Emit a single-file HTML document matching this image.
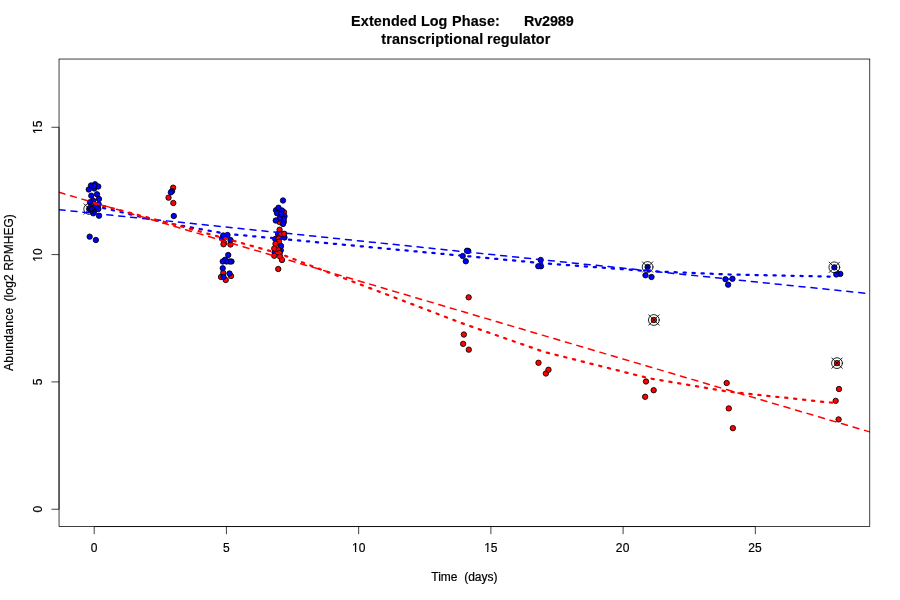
<!DOCTYPE html>
<html lang="en"><head><meta charset="utf-8"><title>Extended Log Phase: Rv2989</title>
<style>
html,body{margin:0;padding:0;background:#fff;}
body{width:900px;height:600px;overflow:hidden;}
svg{display:block;}
text{font-family:"Liberation Sans",Arial,Helvetica,sans-serif;fill:#000;}
.t{font-size:12px;stroke:#000;stroke-width:0.2px;}
.m{font-size:14.4px;font-weight:bold;stroke:#000;stroke-width:0.15px;}
.ax{stroke:#000;stroke-width:0.75;fill:none;}
.p circle{stroke:#000;stroke-width:0.85;}
.r{fill:#ff0000;}.b{fill:#0000ff;}
.mk{stroke:#000;stroke-width:0.85;fill:none;stroke-linecap:round;}
.da{fill:none;stroke-width:1.5;stroke-dasharray:6 6;stroke-linecap:round;stroke-linejoin:round;}
.do{fill:none;stroke-width:2.25;stroke-dasharray:2.25 6.75;stroke-linecap:round;stroke-linejoin:round;}
</style></head><body>
<svg width="900" height="600" viewBox="0 0 900 600">
<rect x="0" y="0" width="900" height="600" fill="#ffffff"/>
<defs><clipPath id="plot"><rect x="59.04" y="59.04" width="810.72" height="467.52"/></clipPath></defs>
<g class="p" clip-path="url(#plot)">
<circle class="b" cx="95.00" cy="184.30" r="2.7"/>
<circle class="b" cx="94.25" cy="188.50" r="2.7"/>
<circle class="b" cx="91.00" cy="185.50" r="2.7"/>
<circle class="b" cx="98.25" cy="186.50" r="2.7"/>
<circle class="b" cx="94.25" cy="186.00" r="2.7"/>
<circle class="b" cx="88.75" cy="189.50" r="2.7"/>
<circle class="b" cx="91.30" cy="195.70" r="2.7"/>
<circle class="b" cx="97.00" cy="194.30" r="2.7"/>
<circle class="b" cx="99.00" cy="199.00" r="2.7"/>
<circle class="b" cx="93.30" cy="200.70" r="2.7"/>
<circle class="b" cx="90.00" cy="202.30" r="2.7"/>
<circle class="b" cx="98.70" cy="204.30" r="2.7"/>
<circle class="b" cx="94.70" cy="206.70" r="2.7"/>
<circle class="b" cx="89.20" cy="209.00" r="2.7"/>
<circle class="b" cx="90.30" cy="207.60" r="2.7"/>
<circle class="b" cx="90.60" cy="210.30" r="2.7"/>
<circle class="b" cx="91.30" cy="209.00" r="2.7"/>
<circle class="b" cx="95.30" cy="210.00" r="2.7"/>
<circle class="b" cx="98.30" cy="209.00" r="2.7"/>
<circle class="b" cx="93.30" cy="213.30" r="2.7"/>
<circle class="b" cx="99.00" cy="215.70" r="2.7"/>
<circle class="b" cx="89.67" cy="236.67" r="2.7"/>
<circle class="b" cx="95.87" cy="240.00" r="2.7"/>
<circle class="r" cx="173.13" cy="187.67" r="2.7"/>
<circle class="b" cx="172.10" cy="191.10" r="2.7"/>
<circle class="b" cx="170.87" cy="192.33" r="2.7"/>
<circle class="r" cx="168.53" cy="197.67" r="2.7"/>
<circle class="r" cx="173.33" cy="203.00" r="2.7"/>
<circle class="b" cx="173.80" cy="216.00" r="2.7"/>
<circle class="r" cx="224.30" cy="243.00" r="2.7"/>
<circle class="r" cx="223.50" cy="244.25" r="2.7"/>
<circle class="r" cx="230.50" cy="244.50" r="2.7"/>
<circle class="b" cx="222.00" cy="238.50" r="2.7"/>
<circle class="b" cx="227.50" cy="235.00" r="2.7"/>
<circle class="b" cx="223.25" cy="235.50" r="2.7"/>
<circle class="b" cx="230.50" cy="240.00" r="2.7"/>
<circle class="b" cx="225.05" cy="259.80" r="2.7"/>
<circle class="b" cx="228.25" cy="255.00" r="2.7"/>
<circle class="b" cx="231.50" cy="261.50" r="2.7"/>
<circle class="b" cx="229.50" cy="261.50" r="2.7"/>
<circle class="b" cx="226.50" cy="261.50" r="2.7"/>
<circle class="b" cx="222.75" cy="261.50" r="2.7"/>
<circle class="r" cx="223.25" cy="273.00" r="2.7"/>
<circle class="r" cx="221.00" cy="277.00" r="2.7"/>
<circle class="r" cx="231.00" cy="276.00" r="2.7"/>
<circle class="r" cx="225.75" cy="280.00" r="2.7"/>
<circle class="b" cx="222.75" cy="268.25" r="2.7"/>
<circle class="b" cx="229.50" cy="273.50" r="2.7"/>
<circle class="b" cx="223.50" cy="277.00" r="2.7"/>
<circle class="r" cx="284.00" cy="212.20" r="2.7"/>
<circle class="b" cx="283.00" cy="200.50" r="2.7"/>
<circle class="b" cx="276.00" cy="210.30" r="2.7"/>
<circle class="b" cx="282.00" cy="210.50" r="2.7"/>
<circle class="b" cx="278.50" cy="207.75" r="2.7"/>
<circle class="b" cx="277.00" cy="213.20" r="2.7"/>
<circle class="b" cx="284.50" cy="216.20" r="2.7"/>
<circle class="b" cx="281.25" cy="214.00" r="2.7"/>
<circle class="r" cx="279.50" cy="222.00" r="2.7"/>
<circle class="r" cx="283.80" cy="222.00" r="2.7"/>
<circle class="b" cx="283.75" cy="219.25" r="2.7"/>
<circle class="b" cx="279.50" cy="218.50" r="2.7"/>
<circle class="b" cx="275.75" cy="220.50" r="2.7"/>
<circle class="b" cx="283.00" cy="224.00" r="2.7"/>
<circle class="b" cx="278.00" cy="234.00" r="2.7"/>
<circle class="b" cx="284.50" cy="237.50" r="2.7"/>
<circle class="b" cx="275.25" cy="239.00" r="2.7"/>
<circle class="r" cx="279.60" cy="229.75" r="2.7"/>
<circle class="r" cx="280.75" cy="234.00" r="2.7"/>
<circle class="r" cx="284.25" cy="233.75" r="2.7"/>
<circle class="r" cx="278.75" cy="238.50" r="2.7"/>
<circle class="r" cx="279.00" cy="241.75" r="2.7"/>
<circle class="r" cx="275.50" cy="243.75" r="2.7"/>
<circle class="b" cx="280.80" cy="250.30" r="2.7"/>
<circle class="b" cx="281.00" cy="246.00" r="2.7"/>
<circle class="b" cx="274.60" cy="252.20" r="2.7"/>
<circle class="r" cx="278.00" cy="249.50" r="2.7"/>
<circle class="r" cx="274.25" cy="248.50" r="2.7"/>
<circle class="r" cx="279.75" cy="253.00" r="2.7"/>
<circle class="r" cx="274.25" cy="255.75" r="2.7"/>
<circle class="r" cx="280.00" cy="256.50" r="2.7"/>
<circle class="r" cx="282.00" cy="260.00" r="2.7"/>
<circle class="r" cx="278.25" cy="269.00" r="2.7"/>
<circle class="b" cx="468.30" cy="251.00" r="2.7"/>
<circle class="b" cx="467.00" cy="250.70" r="2.7"/>
<circle class="b" cx="462.70" cy="256.00" r="2.7"/>
<circle class="b" cx="465.80" cy="261.30" r="2.7"/>
<circle class="r" cx="468.67" cy="297.33" r="2.7"/>
<circle class="r" cx="463.87" cy="334.53" r="2.7"/>
<circle class="r" cx="463.13" cy="343.87" r="2.7"/>
<circle class="r" cx="468.80" cy="349.67" r="2.7"/>
<circle class="b" cx="540.67" cy="260.00" r="2.7"/>
<circle class="b" cx="541.00" cy="266.30" r="2.7"/>
<circle class="b" cx="538.30" cy="266.20" r="2.7"/>
<circle class="r" cx="538.50" cy="362.80" r="2.7"/>
<circle class="r" cx="545.90" cy="373.50" r="2.7"/>
<circle class="r" cx="548.50" cy="369.80" r="2.7"/>
<circle class="b" cx="647.60" cy="267.00" r="2.7"/>
<circle class="b" cx="645.50" cy="275.25" r="2.7"/>
<circle class="b" cx="651.50" cy="277.00" r="2.7"/>
<circle class="r" cx="653.87" cy="320.00" r="2.7"/>
<circle class="r" cx="646.00" cy="381.47" r="2.7"/>
<circle class="r" cx="653.67" cy="390.20" r="2.7"/>
<circle class="r" cx="645.13" cy="396.80" r="2.7"/>
<circle class="b" cx="725.47" cy="279.20" r="2.7"/>
<circle class="b" cx="732.47" cy="278.80" r="2.7"/>
<circle class="b" cx="728.13" cy="284.67" r="2.7"/>
<circle class="r" cx="726.67" cy="383.00" r="2.7"/>
<circle class="r" cx="728.80" cy="408.40" r="2.7"/>
<circle class="r" cx="732.87" cy="428.13" r="2.7"/>
<circle class="b" cx="834.33" cy="267.33" r="2.7"/>
<circle class="b" cx="840.30" cy="273.90" r="2.7"/>
<circle class="b" cx="836.30" cy="274.50" r="2.7"/>
<circle class="r" cx="837.00" cy="363.13" r="2.7"/>
<circle class="r" cx="839.00" cy="389.00" r="2.7"/>
<circle class="r" cx="835.67" cy="400.87" r="2.7"/>
<circle class="r" cx="838.60" cy="419.40" r="2.7"/>
</g>
<g class="mk" clip-path="url(#plot)">
<circle cx="89.20" cy="209.00" r="5.4"/>
<line x1="84.00" y1="203.80" x2="94.40" y2="214.20"/>
<line x1="84.00" y1="214.20" x2="94.40" y2="203.80"/>
<circle cx="647.60" cy="267.00" r="5.4"/>
<line x1="642.40" y1="261.80" x2="652.80" y2="272.20"/>
<line x1="642.40" y1="272.20" x2="652.80" y2="261.80"/>
<circle cx="653.87" cy="320.00" r="5.4"/>
<line x1="648.67" y1="314.80" x2="659.07" y2="325.20"/>
<line x1="648.67" y1="325.20" x2="659.07" y2="314.80"/>
<circle cx="834.33" cy="267.33" r="5.4"/>
<line x1="829.13" y1="262.13" x2="839.53" y2="272.53"/>
<line x1="829.13" y1="272.53" x2="839.53" y2="262.13"/>
<circle cx="837.00" cy="363.13" r="5.4"/>
<line x1="831.80" y1="357.93" x2="842.20" y2="368.33"/>
<line x1="831.80" y1="368.33" x2="842.20" y2="357.93"/>
</g>
<g clip-path="url(#plot)">
<polyline class="do" stroke="#0000ff" points="94.20,205.90 173.50,224.30 226.40,233.80 279.30,238.70 464.40,255.90 543.70,263.30 649.50,271.20 728.80,274.50 834.60,276.70"/>
<line class="da" stroke="#0000ff" x1="59.04" y1="209.75" x2="869.76" y2="293.70"/>
<polyline class="do" stroke="#ff0000" points="94.20,203.50 173.50,224.30 226.40,238.80 279.30,253.60 464.40,324.10 543.70,351.80 649.50,378.40 728.80,391.70 834.60,403.00"/>
<line class="da" stroke="#ff0000" x1="59.04" y1="192.30" x2="869.76" y2="431.90"/>
</g>
<rect class="ax" x="59.04" y="59.04" width="810.72" height="467.52"/>
<path class="ax" d="M94.20 526.56H755.33"/>
<path class="ax" d="M94.20 526.56v7.58"/>
<path class="ax" d="M226.43 526.56v7.58"/>
<path class="ax" d="M358.65 526.56v7.58"/>
<path class="ax" d="M490.88 526.56v7.58"/>
<path class="ax" d="M623.10 526.56v7.58"/>
<path class="ax" d="M755.33 526.56v7.58"/>
<path class="ax" d="M59.04 509.24V127.28"/>
<path class="ax" d="M59.04 509.24h-7.58"/>
<path class="ax" d="M59.04 381.92h-7.58"/>
<path class="ax" d="M59.04 254.60h-7.58"/>
<path class="ax" d="M59.04 127.28h-7.58"/>
<text class="t" x="94.20" y="551.80" text-anchor="middle">0</text>
<text class="t" x="226.43" y="551.80" text-anchor="middle">5</text>
<text class="t" x="358.65" y="551.80" text-anchor="middle">10</text>
<text class="t" x="490.88" y="551.80" text-anchor="middle">15</text>
<text class="t" x="622.85" y="551.80" text-anchor="middle" style="letter-spacing:0.3px">20</text>
<text class="t" x="755.12" y="551.80" text-anchor="middle" style="letter-spacing:0.3px">25</text>
<text class="t" transform="translate(41.80 509.24) rotate(-90)" text-anchor="middle">0</text>
<text class="t" transform="translate(41.80 381.92) rotate(-90)" text-anchor="middle">5</text>
<text class="t" transform="translate(41.80 255.00) rotate(-90)" text-anchor="middle">10</text>
<text class="t" transform="translate(41.80 127.28) rotate(-90)" text-anchor="middle">15</text>
<rect x="351.40" y="550.30" width="3.50" height="2.30" fill="#fff"/>
<rect x="356.25" y="550.30" width="2.75" height="2.30" fill="#fff"/>
<rect x="483.80" y="550.30" width="3.20" height="2.30" fill="#fff"/>
<rect x="488.40" y="550.30" width="2.50" height="2.30" fill="#fff"/>
<rect x="39.90" y="254.90" width="3.00" height="2.50" fill="#fff"/>
<rect x="39.90" y="258.80" width="3.00" height="3.20" fill="#fff"/>
<rect x="39.90" y="127.20" width="3.00" height="2.50" fill="#fff"/>
<rect x="39.90" y="131.00" width="3.00" height="3.00" fill="#fff"/>
<text class="t" x="464.40" y="580.60" text-anchor="middle" xml:space="preserve">Time  (days)</text>
<text class="t" transform="translate(13.00 371.00) rotate(-90)" style="letter-spacing:0.3px">Abundance</text>
<text class="t" transform="translate(13.00 301.60) rotate(-90)" style="letter-spacing:0.15px">(log2</text>
<text class="t" transform="translate(13.00 270.80) rotate(-90)" style="letter-spacing:0px">RPMHEG)</text>
<text class="m" transform="translate(351.00 26.00) scale(1 1.07)" style="letter-spacing:0.14px">Extended</text>
<text class="m" transform="translate(421.00 26.00) scale(1 1.07)" style="letter-spacing:0px">Log</text>
<text class="m" transform="translate(452.00 26.00) scale(1 1.07)" style="letter-spacing:0.14px">Phase:</text>
<text class="m" transform="translate(524.00 26.00) scale(1 1.07)" style="letter-spacing:-0.14px">Rv2989</text>
<text class="m" transform="translate(381.30 43.80) scale(1 1.07)" style="letter-spacing:0.14px">transcriptional</text>
<text class="m" transform="translate(487.00 43.80) scale(1 1.07)" style="letter-spacing:0.12px">regulator</text>
</svg>
</body></html>
